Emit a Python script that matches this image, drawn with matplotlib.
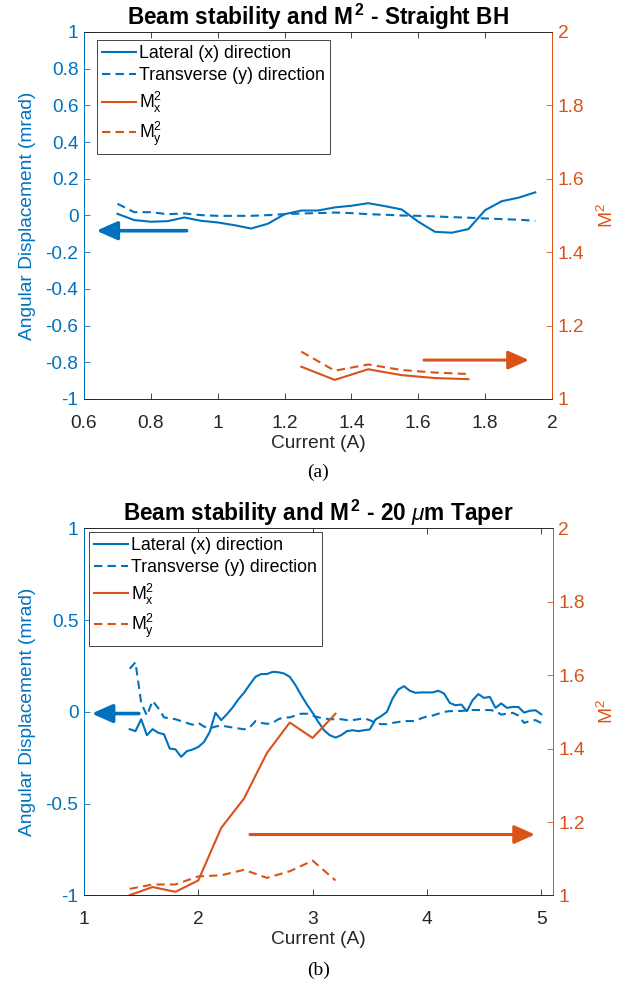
import numpy as np
import matplotlib
matplotlib.use('Agg')
from matplotlib import pyplot as plt
from matplotlib.ticker import FuncFormatter

plt.rcParams['font.family'] = ['Liberation Sans', 'DejaVu Sans']
plt.rcParams['mathtext.fontset'] = 'custom'
plt.rcParams['mathtext.rm'] = 'Liberation Sans'
plt.rcParams['mathtext.it'] = 'Liberation Sans:italic'
plt.rcParams['mathtext.bf'] = 'Liberation Sans:bold'

BLUE = '#0072BD'
ORANGE = '#D95319'
DARK = '#262626'

# (a) straight BH
a_current = [0.70, 0.75, 0.80, 0.85, 0.90, 0.95, 1.00, 1.05, 1.10, 1.15, 1.20, 1.25, 1.30,
             1.35, 1.40, 1.45, 1.50, 1.55, 1.60, 1.65, 1.70, 1.75, 1.80, 1.85, 1.90, 1.95]
a_lateral = [0.009, -0.025, -0.034, -0.031, -0.011, -0.029, -0.038, -0.053, -0.071, -0.045,
             0.007, 0.027, 0.027, 0.044, 0.053, 0.067, 0.051, 0.033, -0.034, -0.089,
             -0.094, -0.074, 0.029, 0.078, 0.097, 0.126]
a_transverse = [0.064, 0.018, 0.018, 0.007, 0.011, 0.002, -0.002, -0.002, -0.002, 0.002,
                0.007, 0.011, 0.013, 0.016, 0.013, 0.007, 0.004, 0.0, -0.002, -0.005,
                -0.009, -0.012, -0.016, -0.020, -0.023, -0.029]
a_m2_current = [1.25, 1.35, 1.45, 1.55, 1.65, 1.75]
a_m2x = [1.088, 1.052, 1.081, 1.065, 1.057, 1.054]
a_m2y = [1.129, 1.077, 1.094, 1.079, 1.072, 1.068]

# (b) 20 um taper
b_current = np.round(np.arange(1.40, 5.001, 0.05), 2)
b_lateral = [-0.094, -0.105, -0.040, -0.127, -0.094, -0.114, -0.122, -0.200, -0.204, -0.245,
             -0.214, -0.205, -0.191, -0.164, -0.109, -0.005, -0.045, -0.013, 0.024, 0.068,
             0.104, 0.149, 0.191, 0.206, 0.206, 0.218, 0.216, 0.209, 0.191, 0.146,
             0.091, 0.040, -0.005, -0.055, -0.100, -0.127, -0.140, -0.127, -0.105, -0.100,
             -0.105, -0.100, -0.096, -0.042, -0.023, 0.000, 0.073, 0.122, 0.140, 0.115,
             0.104, 0.106, 0.106, 0.106, 0.115, 0.100, 0.049, 0.036, 0.040, 0.004,
             0.064, 0.097, 0.076, 0.082, 0.022, 0.046, 0.022, 0.027, 0.027, -0.004,
             0.006, 0.009, -0.013]
b_transverse = [0.235, 0.270, 0.050, -0.020, 0.060, 0.020, -0.030, -0.035, -0.040, -0.050,
                -0.060, -0.070, -0.060, -0.080, -0.090, -0.080, -0.075, -0.080, -0.085, -0.090,
                -0.095, -0.085, -0.050, -0.060, -0.065, -0.060, -0.040, -0.030, -0.030, -0.020,
                -0.010, -0.010, -0.020, -0.030, -0.035, -0.040, -0.040, -0.040, -0.045, -0.045,
                -0.040, -0.035, -0.045, -0.060, -0.067, -0.067, -0.060, -0.055, -0.050, -0.050,
                -0.050, -0.035, -0.025, -0.020, -0.010, 0.000, 0.004, 0.005, 0.005, 0.008,
                0.010, 0.010, 0.010, 0.010, 0.005, -0.015, -0.010, -0.005, -0.020, -0.060,
                -0.050, -0.045, -0.060]
b_m2_current = [1.4, 1.6, 1.8, 2.0, 2.2, 2.4, 2.6, 2.8, 3.0, 3.2]
b_m2x = [1.001, 1.023, 1.010, 1.041, 1.184, 1.264, 1.388, 1.471, 1.429, 1.495]
b_m2y = [1.018, 1.030, 1.030, 1.052, 1.055, 1.070, 1.048, 1.066, 1.095, 1.041]

fmt = FuncFormatter(lambda v, p: '%g' % v)
DASH = (0, (4, 2.5))
FS = 13.8


def panel(rect, title, xlim, xticks, yticks, cur, lat, trans, mcur, mx, my,
          left_arrow, right_arrow, legend_anchor, caption):
    ax = fig.add_axes(rect)
    ax2 = ax.twinx()
    h1, = ax.plot(cur, lat, color=BLUE, lw=1.5, label='Lateral (x) direction')
    h2, = ax.plot(cur, trans, color=BLUE, lw=1.5, ls=DASH, label='Transverse (y) direction')
    h3, = ax2.plot(mcur, mx, color=ORANGE, lw=1.5, label=r'M$^{2}_{\mathrm{x}}$')
    h4, = ax2.plot(mcur, my, color=ORANGE, lw=1.5, ls=DASH, label=r'M$^{2}_{\mathrm{y}}$')

    ax.set_xlim(*xlim)
    ax.set_ylim(-1, 1)
    ax2.set_ylim(1, 2)
    ax.set_xticks(xticks)
    ax.set_yticks(yticks)
    ax2.set_yticks([1, 1.2, 1.4, 1.6, 1.8, 2])
    for a in (ax, ax2):
        a.xaxis.set_major_formatter(fmt)
        a.yaxis.set_major_formatter(fmt)
    ax.tick_params(axis='x', direction='in', top=True, length=4, width=0.6,
                   colors=DARK, labelsize=FS, pad=11.5)
    ax.tick_params(axis='y', direction='in', length=4, width=0.6,
                   colors=BLUE, labelsize=FS, pad=4)
    ax2.tick_params(axis='y', direction='in', length=4, width=0.6,
                    colors=ORANGE, labelsize=FS, pad=4)
    for a in (ax, ax2):
        a.spines['top'].set_color(DARK)
        a.spines['bottom'].set_color(DARK)
        a.spines['left'].set_color(BLUE)
        a.spines['right'].set_color(ORANGE)
        for s in a.spines.values():
            s.set_linewidth(0.6)

    ax.set_xlabel('Current (A)', fontsize=FS, color=DARK, labelpad=2)
    ax.set_ylabel('Angular Displacement (mrad)', fontsize=FS, color=BLUE, labelpad=7)
    ax2.set_ylabel(r'M$^{2}$', fontsize=FS, color=ORANGE, labelpad=9)
    ax.set_title(title, fontsize=16.3, fontweight='bold', pad=4)

    (lx0, ly), lx1 = left_arrow
    ax.annotate('', xy=(lx1, ly), xytext=(lx0, ly),
                arrowprops=dict(arrowstyle='-|>,head_length=0.9,head_width=0.4',
                                color=BLUE, lw=2.6, mutation_scale=14, shrinkA=0, shrinkB=0))
    (rx0, ry), rx1 = right_arrow
    ax2.annotate('', xy=(rx1, ry), xytext=(rx0, ry),
                 arrowprops=dict(arrowstyle='-|>,head_length=0.9,head_width=0.4',
                                 color=ORANGE, lw=2.2, mutation_scale=14, shrinkA=0, shrinkB=0))

    leg = ax2.legend(handles=[h1, h2, h3, h4], loc='upper left', bbox_to_anchor=legend_anchor,
                     fontsize=12.8, frameon=True, fancybox=False, framealpha=1,
                     edgecolor=DARK, borderpad=0.3, labelspacing=0.3, handlelength=1.9,
                     handletextpad=0.15, borderaxespad=0)
    leg.get_frame().set_linewidth(0.6)

    fig.text(rect[0] + rect[2] / 2, caption[1], caption[0], ha='center', va='center',
             fontsize=14, family=['Liberation Serif', 'DejaVu Serif'])
    return ax, ax2


fig = plt.figure(figsize=(6.35, 9.93), dpi=100)

panel([0.1323, 0.5982, 0.737, 0.3696], r'Beam stability and M$^{\,\mathbf{2}}$ - Straight BH',
      (0.6, 2.0), [0.6, 0.8, 1.0, 1.2, 1.4, 1.6, 1.8, 2.0],
      [-1, -0.8, -0.6, -0.4, -0.2, 0, 0.2, 0.4, 0.6, 0.8, 1],
      a_current, a_lateral, a_transverse, a_m2_current, a_m2x, a_m2y,
      ((0.907, -0.083), 0.637), ((1.617, 1.106), 1.931), (0.028, 0.979), ('(a)', 0.5247))

panel([0.1323, 0.0982, 0.738, 0.3698], r'Beam stability and M$^{\,\mathbf{2}}$ - 20 $\mu$m Taper',
      (1.0, 5.1), [1, 2, 3, 4, 5], [-1, -0.5, 0, 0.5, 1],
      b_current, b_lateral, b_transverse, b_m2_current, b_m2x, b_m2y,
      ((1.48, -0.009), 1.067), ((2.452, 1.166), 4.946), (0.011, 0.991), ('(b)', 0.0232))

fig.savefig('out.png', dpi=100)
